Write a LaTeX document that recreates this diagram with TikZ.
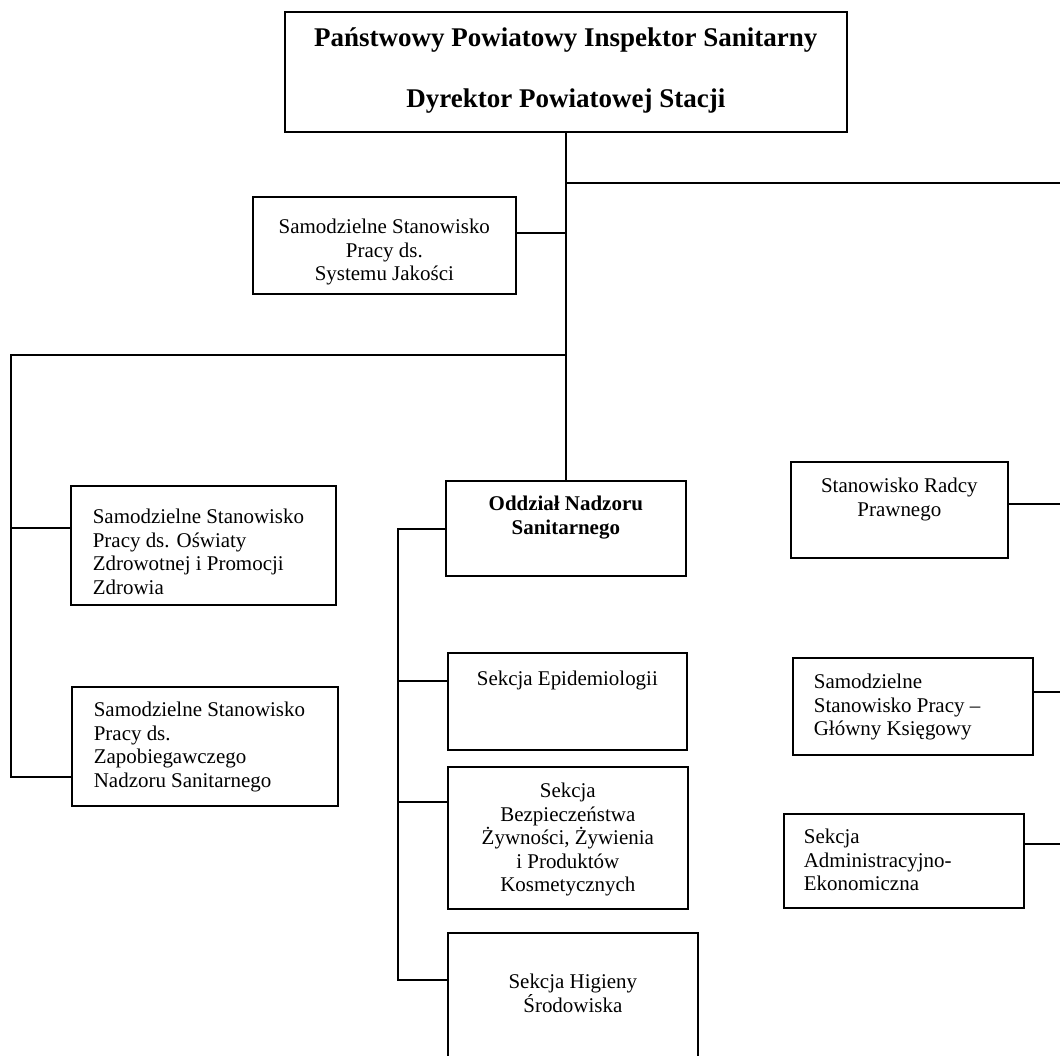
\documentclass[tikz,border=0pt]{standalone}
\usepackage{fontspec}
\setmainfont{Liberation Serif}
\newdimen\px \px=0.025cm
\newcommand{\unittext}[4]{\parbox[t][#2\px][t]{#1\px}{\vspace*{#3\px}#4}}
\tikzset{
  unit/.style = {draw, line width = 1.2pt, anchor = north west, inner sep = 0pt,
    font = \fontsize{14.9pt}{16.7pt}\selectfont},
  link/.style = {line width = 1.1pt}
}
\begin{document}
\begin{tikzpicture}[x = 0.025cm, y = -0.025cm]
            \useasboundingbox (0, 0) rectangle (1060, 1056);
            \node [unit] (chief) at (284, 11) {\unittext{562}{120}{16}{\centering\fontsize{19.2pt}{43.4pt}\selectfont\bfseries Państwowy Powiatowy Inspektor Sanitarny\\ Dyrektor Powiatowej Stacji}};
            \node [unit] (jakosc) at (252, 196) {\unittext{263}{97}{22.5}{\centering Samodzielne Stanowisko\\ Pracy ds.\\ Systemu Jakości}};
            \node [unit] (oswiaty) at (70, 485) {\unittext{265}{119}{23.5}{\raggedright\leftskip=22\px Samodzielne Stanowisko\\ Pracy ds. Oświaty\\ Zdrowotnej i Promocji\\ Zdrowia}};
            \node [unit] (zapob) at (71, 686) {\unittext{266}{119}{15.5}{\raggedright\leftskip=22\px Samodzielne Stanowisko\\ Pracy ds.\\ Zapobiegawczego\\ Nadzoru Sanitarnego}};
            \node [unit] (oddzial) at (445, 480) {\unittext{240}{95}{15.5}{\centering\bfseries Oddział Nadzoru\\ Sanitarnego}};
            \node [unit] (epid) at (447, 652) {\unittext{239}{97}{18.5}{\centering Sekcja Epidemiologii}};
            \node [unit] (bezp) at (447, 766) {\unittext{240}{142}{16.5}{\centering Sekcja\\ Bezpieczeństwa\\ Żywności, Żywienia\\ i Produktów\\ Kosmetycznych}};
            \node [unit] (higieny) at (447, 932) {\unittext{250}{140}{41.5}{\centering Sekcja Higieny\\ Środowiska}};
            \node [unit] (radca) at (790, 461) {\unittext{217}{96}{16.5}{\centering Stanowisko Radcy\\ Prawnego}};
            \node [unit] (ksiegowy) at (792, 657) {\unittext{240}{97}{16.5}{\raggedright\leftskip=21\px Samodzielne\\ Stanowisko Pracy –\\ Główny Księgowy}};
            \node [unit] (admin) at (783, 813) {\unittext{240}{94}{15.5}{\raggedright\leftskip=20\px Sekcja\\ Administracyjno-\\ Ekonomiczna}};
            \coordinate (rbus) at (1060, 183);
            \coordinate (lbus) at (11, 355);
            \coordinate (obus) at (398, 980);
            \draw [link] (chief.south) -- (oddzial.north);
            \draw [link] (chief.south |- rbus) -- (rbus);
            \draw [link] (jakosc.east |- 0, 233) -- (chief.south |- 0, 233);
            \draw [link] (chief.south |- lbus) -- (lbus) |- (zapob.west |- 0, 777);
            \draw [link] (lbus |- 0, 528) -- (oswiaty.west |- 0, 528);
            \draw [link] (oddzial.west |- 0, 529) -| (obus) -- (higieny.west |- obus);
            \draw [link] (obus |- 0, 681) -- (epid.west |- 0, 681);
            \draw [link] (obus |- 0, 802) -- (bezp.west |- 0, 802);
            \draw [link] (radca.east |- 0, 504) -- (rbus |- 0, 504);
            \draw [link] (ksiegowy.east |- 0, 692) -- (rbus |- 0, 692);
            \draw [link] (admin.east |- 0, 844) -- (rbus |- 0, 844);
        \end{tikzpicture}
\end{document}
